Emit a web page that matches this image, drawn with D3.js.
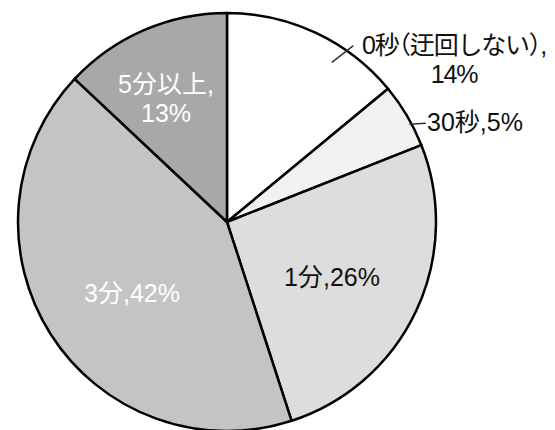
<!DOCTYPE html>
<html>
<head>
<meta charset="utf-8">
<script src="https://cdn.jsdelivr.net/npm/d3@7"></script>
<style>
    body { margin: 0; background: #fff; }
    text {
        font-family: "Liberation Sans", Arial, "Noto Sans CJK JP", sans-serif;
        font-size: 25px;
        font-feature-settings: "halt";
    }
</style>
</head>
<body>
<svg id="chart" width="555" height="430"></svg>
<script>
// data, clockwise from 12 o'clock
const categories = ["0秒（迂回しない）", "30秒", "1分", "3分", "5分以上"];
const shares = [14, 5, 26, 42, 13];
const fills = ["#ffffff", "#f1f1f1", "#dddddd", "#c4c4c4", "#a8a8a8"];

const width = 555, height = 430;
const cx = 227, cy = 222, radius = 209;

// label placement, relative to pie centre
const labelLayout = [
    { lines: d => [d.cat + ",", d.val + "%"], dx: 227, dy: -168, anchor: "middle", color: "#111", spacing: -1.2 },
    { lines: d => [d.cat + "," + d.val + "%"], dx: 200, dy: -91, anchor: "start", color: "#111", spacing: 0 },
    { lines: d => [d.cat + "," + d.val + "%"], dx: 105, dy: 64, anchor: "middle", color: "#111", spacing: 0 },
    { lines: d => [d.cat + "," + d.val + "%"], dx: -95, dy: 80, anchor: "middle", color: "#fff", spacing: 0 },
    { lines: d => [d.cat + ",", d.val + "%"], dx: -61, dy: -129, anchor: "middle", color: "#fff", spacing: 0 }
];
// leader ticks: angle in degrees, radius from/to
const leaders = [
    { a0: 33.3, r0: 191, a1: 35.6, r1: 217 },
    { a0: 61.8, r0: 207, a1: 63.6, r1: 222 }
];

let svg = d3.select("#chart");
let g = svg.append("g").attr("transform", `translate(${cx},${cy})`);

let data = categories.map((c, i) => ({ cat: c, val: shares[i], fill: fills[i] }));

let pie = d3.pie().sort(null).value(d => d.val);
let arc = d3.arc().innerRadius(0).outerRadius(radius);

g.selectAll(".slice")
    .data(pie(data))
    .enter()
    .append("path")
    .classed("slice", true)
    .attr("d", arc)
    .attr("fill", d => d.data.fill)
    .attr("stroke", "#000")
    .attr("stroke-width", 2.5)
    .attr("stroke-linejoin", "round");

leaders.forEach(l => {
    let p0 = d3.pointRadial(l.a0 * Math.PI / 180, l.r0);
    let p1 = d3.pointRadial(l.a1 * Math.PI / 180, l.r1);
    g.append("line")
        .attr("x1", p0[0]).attr("y1", p0[1])
        .attr("x2", p1[0]).attr("y2", p1[1])
        .attr("stroke", "#333")
        .attr("stroke-width", 1.5);
});

data.forEach((d, i) => {
    let lay = labelLayout[i];
    let t = g.append("text")
        .attr("text-anchor", lay.anchor)
        .attr("fill", lay.color)
        .style("letter-spacing", lay.spacing + "px");
    lay.lines(d).forEach((line, j) => {
        t.append("tspan")
            .attr("x", lay.dx)
            .attr("y", lay.dy + j * 29)
            .text(line);
    });
});
</script>
</body>
</html>
